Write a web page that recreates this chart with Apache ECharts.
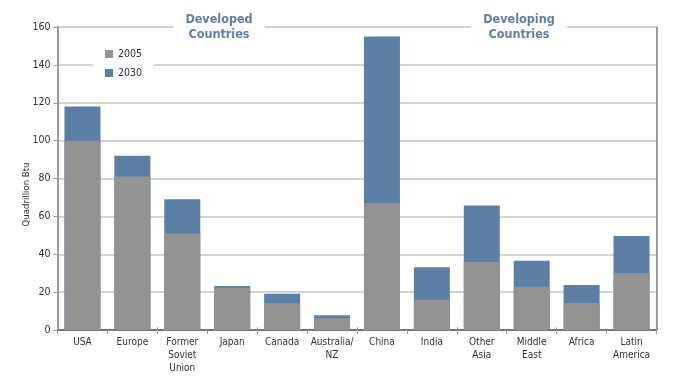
<!DOCTYPE html>
<html>
<head>
<meta charset="utf-8">
<script src="https://cdn.jsdelivr.net/npm/echarts@6/dist/echarts.min.js"></script>
<style>html,body{margin:0;padding:0;background:#fff}#c{width:691px;height:390px}</style>
</head>
<body>
<div id="c"></div>
<script>
const categories = ['USA','Europe','Former\nSoviet\nUnion','Japan','Canada','Australia/\nNZ','China','India','Other\nAsia','Middle\nEast','Africa','Latin\nAmerica'];
const values2005 = [100, 81, 51, 22.3, 14.1, 6.2, 67, 16, 35.9, 22.9, 14.3, 30.1];
const values2030 = [118, 92, 69, 23.3, 19.2, 7.8, 155, 33.1, 65.8, 36.6, 23.8, 49.6];
const yTicks = {min: 0, max: 160, interval: 20};
const groupTitles = ['Developed\nCountries', 'Developing\nCountries'];

const FONT = '"DejaVu Sans Condensed","Liberation Sans Narrow",sans-serif';
const GRAY = '#939394';
const BLUE = '#5c7fa6';
const chart = echarts.init(document.getElementById('c'));
chart.setOption({
  animation: false,
  textStyle: {fontFamily: FONT},
  grid: {left: 57.5, right: 34.5, top: 27, bottom: 60},
  title: [
    {text: groupTitles[0], left: 207, top: 12, textAlign: 'center', backgroundColor: '#fff', padding: [0, 12, 0, 12],
     textStyle: {fontFamily: FONT, fontSize: 12.5, fontWeight: 'bold', color: BLUE, lineHeight: 15, align: 'center'}},
    {text: groupTitles[1], left: 507, top: 12, textAlign: 'center', backgroundColor: '#fff', padding: [0, 12, 0, 12],
     textStyle: {fontFamily: FONT, fontSize: 12.5, fontWeight: 'bold', color: BLUE, lineHeight: 15, align: 'center'}}
  ],
  legend: {
    data: ['2005', '2030'], orient: 'vertical', left: 93, top: 44,
    itemWidth: 8, itemHeight: 8, itemGap: 7, padding: [4, 12, 4, 12],
    backgroundColor: '#fff',
    textStyle: {fontFamily: FONT, fontSize: 10.5, color: '#333', lineHeight: 12},
    icon: 'rect'
  },
  xAxis: [{
    type: 'category', data: categories,
    axisLine: {lineStyle: {color: '#777', width: 2}},
    axisTick: {show: true, length: 4, lineStyle: {color: '#999', width: 1}},
    axisLabel: {fontFamily: FONT, fontSize: 10, color: '#333', lineHeight: 13, margin: 6, interval: 0},
    splitLine: {show: true, interval: function (i) { return i === 6; }, lineStyle: {color: '#888', width: 1.5}}
  }, {
    type: 'category', data: categories, position: 'bottom',
    axisLine: {show: false},
    axisTick: {show: true, inside: true, length: 3, lineStyle: {color: '#999', width: 1}},
    axisLabel: {show: false}, splitLine: {show: false}
  }],
  yAxis: [{
    type: 'value', min: yTicks.min, max: yTicks.max, interval: yTicks.interval,
    name: 'Quadrillion Btu', nameLocation: 'middle', nameGap: 26, nameRotate: 90, nameMoveOverlap: false,
    nameTextStyle: {fontFamily: FONT, fontSize: 9.5, color: '#333', padding: [0, 32, 0, 0]},
    axisLine: {show: true, lineStyle: {color: '#999', width: 1.5}},
    axisTick: {show: true, length: 4, lineStyle: {color: '#999'}},
    axisLabel: {fontFamily: FONT, fontSize: 10.5, color: '#333', margin: 7},
    splitLine: {lineStyle: {color: '#c4c4c4', width: 1.5}}
  }, {
    type: 'value', min: yTicks.min, max: yTicks.max, interval: yTicks.interval, position: 'right',
    axisLine: {show: true, lineStyle: {color: '#999', width: 1.5}},
    axisTick: {show: false}, axisLabel: {show: false}, splitLine: {show: false}
  }],
  series: [
    {name: '2030', type: 'bar', data: values2030, barWidth: 36, itemStyle: {color: BLUE}, z: 2},
    {name: '2005', type: 'bar', data: values2005, barWidth: 36, barGap: '-100%', itemStyle: {color: GRAY}, z: 3}
  ]
});
</script>
</body>
</html>
